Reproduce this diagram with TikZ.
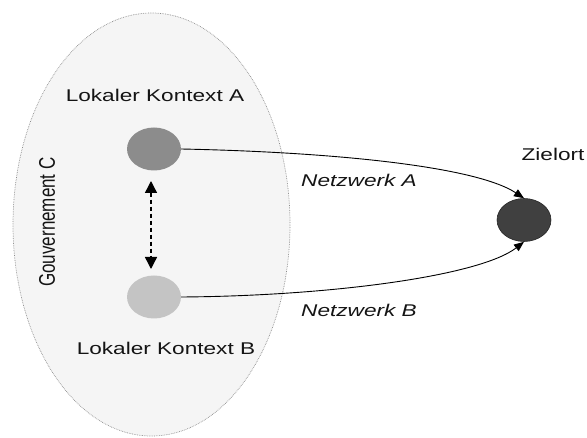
\documentclass[tikz,border=0pt]{standalone}
\usepackage{fontspec}
\setmainfont{Liberation Sans}
\usetikzlibrary{arrows.meta,shapes.geometric}

% wide sans text used for all labels
\newcommand{\wlabel}[1]{\scalebox{1.33}[1]{#1}}

\begin{document}
\begin{tikzpicture}[x=1pt,y=-1pt,
  lbl/.style={inner sep=0pt, text=black!92, font=\fontsize{17}{19}\selectfont},
  ctx/.style={ellipse, minimum width=54pt, minimum height=43pt, inner sep=0pt, draw=none},
  flow/.style={line width=0.9pt, -{Triangle[length=10pt,width=8pt]}},
  link/.style={line width=1.4pt, dash pattern=on 4.5pt off 2.5pt,
               {Triangle[length=12pt,width=12pt]}-{Triangle[length=12pt,width=12pt]}}
]
\path[use as bounding box] (0,0) rectangle (587,438);

% government area
\node[ellipse, minimum width=277pt, minimum height=423pt, inner sep=0pt,
      draw=black!45, densely dotted, line width=0.7pt, fill=black!4] (gov) at (151.5,224.5) {};
\node[lbl] (govlbl) at (47,222) {\scalebox{1.33}[1]{\rotatebox{90}{Gouvernement C}}};

% local contexts and destination
\node[ctx, fill=black!45] (A) at (154,149) {};
\node[ctx, fill=black!23] (B) at (154,297) {};
\node[ctx, fill=black!75, draw=black!85, line width=0.6pt] (Z) at (524,220) {};

\node[lbl] (Alb) at (155,95) {\wlabel{Lokaler Kontext A}};
\node[lbl] (Blb) at (166,348) {\wlabel{Lokaler Kontext B}};
\node[lbl] (Zlb) at (553,154) {\wlabel{Zielort}};
\node[lbl, font=\fontsize{17}{19}\selectfont\itshape] (NA) at (359,180) {\wlabel{Netzwerk A}};
\node[lbl, font=\fontsize{17}{19}\selectfont\itshape] (NB) at (359,310) {\wlabel{Netzwerk B}};

% exchange between the two contexts
\coordinate (lt) at (151,181);
\coordinate (lb) at (151,269);
\draw[link] (lt) -- (lb);

% networks to the destination
\draw[flow] (A.east) .. controls (330,152) and (475,166) .. (Z.north);
\draw[flow] (B.east) .. controls (330,296) and (480,276) .. (Z.south);
\end{tikzpicture}
\end{document}
